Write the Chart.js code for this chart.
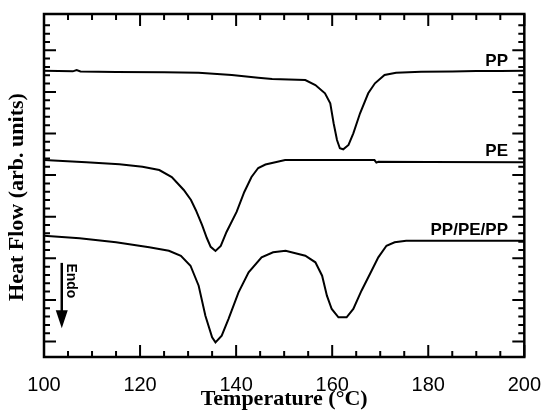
<!DOCTYPE html>
<html>
<head>
<meta charset="utf-8">
<script src="https://cdn.jsdelivr.net/npm/chart.js@4.4.0/dist/chart.umd.min.js"></script>
<style>
  body { margin: 0; background: #fff; }
  #wrap { width: 549px; height: 419px; }
</style>
</head>
<body>
<div id="wrap"><canvas id="grafico" width="549" height="419"></canvas></div>
<script>
// DSC curves (temperature in °C, heat flow in arb. units, offset per curve)
const ppTemp = [100, 106.0, 106.8, 107.6, 115, 125, 132.2, 139.1, 144.6, 147.5, 154.4, 156.5, 158.5, 159.6, 160.3, 161.0, 161.6, 162.3, 163.4, 164.4, 165.8, 167.5, 168.9, 170.9, 173.3, 178.5, 185, 190, 195, 200];
const ppFlow = [32.55, 32.47, 32.62, 32.45, 32.4, 32.35, 32.31, 32.03, 31.71, 31.55, 31.43, 30.83, 29.83, 28.63, 26.23, 24.22, 23.22, 23.10, 23.62, 25.02, 27.43, 29.83, 31.03, 32.03, 32.31, 32.43, 32.45, 32.5, 32.5, 32.55];

const peTemp = [100, 108.8, 115.7, 120.5, 124.0, 126.6, 129.1, 130.6, 131.6, 132.9, 133.9, 134.7, 135.7, 136.8, 138.0, 140.1, 141.7, 143.2, 144.6, 146.1, 147.7, 150.2, 160, 168.8, 169.2, 169.6, 180, 200];
const peFlow = [21.81, 21.54, 21.30, 21.01, 20.61, 19.77, 18.21, 17.01, 15.81, 14.01, 12.44, 11.38, 10.89, 11.49, 13.17, 15.58, 17.97, 19.77, 20.85, 21.27, 21.49, 21.81, 21.81, 21.81, 21.5, 21.6, 21.56, 21.54];

const triTemp = [100, 107.4, 115.0, 121.9, 126.0, 128.5, 130.5, 132.2, 133.6, 135.0, 135.7, 137.0, 138.4, 140.5, 142.6, 145.3, 147.7, 150.3, 154.4, 156.5, 157.9, 158.9, 159.9, 161.3, 163.0, 164.4, 166.1, 168.2, 169.6, 171.3, 173.0, 175.4, 185, 200];
const triFlow = [12.72, 12.40, 11.92, 11.32, 10.91, 10.31, 9.11, 6.71, 3.10, 0.50, -0.10, 0.70, 2.70, 5.91, 8.32, 10.12, 10.72, 10.91, 10.31, 9.52, 7.91, 5.51, 3.91, 2.91, 2.91, 3.91, 6.11, 8.51, 10.12, 11.51, 11.92, 12.11, 12.11, 12.11];

const curveNames = ['PP', 'PE', 'PP/PE/PP'];
const xTickLabels = [100, 120, 140, 160, 180, 200];

const pontos = (t, v) => t.map((x, i) => ({ x: x, y: v[i] }));

// frame, inward ticks, y title, curve labels and the Endo arrow
const moldura = {
  id: 'moldura',
  afterDraw(chart) {
    const { ctx, chartArea: a, scales: { x, y } } = chart;
    ctx.save();
    ctx.strokeStyle = '#000';
    ctx.fillStyle = '#000';

    ctx.lineWidth = 2;
    ctx.beginPath();
    x.ticks.forEach(t => {
      const px = x.getPixelForValue(t.value);
      const len = t.value % 20 === 0 ? 12 : 6;
      ctx.moveTo(px, a.bottom); ctx.lineTo(px, a.bottom - len);
      ctx.moveTo(px, a.top); ctx.lineTo(px, a.top + len);
    });
    y.ticks.forEach(t => {
      if (!Number.isInteger(t.value)) return;
      const py = y.getPixelForValue(t.value);
      const len = t.value % 5 === 0 ? 12 : 6;
      ctx.moveTo(a.left, py); ctx.lineTo(a.left + len, py);
      ctx.moveTo(a.right, py); ctx.lineTo(a.right - len, py);
    });
    ctx.stroke();
    ctx.lineWidth = 2.5;
    ctx.strokeRect(a.left, a.top, a.right - a.left, a.bottom - a.top);

    // y axis title
    ctx.save();
    ctx.translate(17, 197);
    ctx.rotate(-Math.PI / 2);
    ctx.font = 'bold 22px "Liberation Serif"';
    ctx.textAlign = 'center';
    ctx.textBaseline = 'middle';
    ctx.fillText('Heat Flow (arb. units)', 0, 0);
    ctx.restore();

    // curve names
    ctx.font = 'bold 17px "Liberation Sans"';
    ctx.textAlign = 'right';
    ctx.textBaseline = 'middle';
    const nameY = [33.7, 22.9, 13.4];
    curveNames.forEach((n, i) => {
      ctx.fillText(n, x.getPixelForValue(196.6), y.getPixelForValue(nameY[i]));
    });

    // Endo arrow
    const ax = x.getPixelForValue(103.7);
    const y0 = y.getPixelForValue(9.45);
    const y1 = y.getPixelForValue(1.6);
    ctx.lineWidth = 2.5;
    ctx.beginPath();
    ctx.moveTo(ax, y0); ctx.lineTo(ax, y1 - 14);
    ctx.stroke();
    ctx.beginPath();
    ctx.moveTo(ax - 6, y1 - 18);
    ctx.lineTo(ax + 6, y1 - 18);
    ctx.lineTo(ax, y1);
    ctx.closePath();
    ctx.fill();

    ctx.save();
    ctx.translate(ax + 9, y0 + 18);
    ctx.rotate(Math.PI / 2);
    ctx.font = 'bold 14px "Liberation Sans"';
    ctx.textAlign = 'center';
    ctx.textBaseline = 'middle';
    ctx.fillText('Endo', 0, 0);
    ctx.restore();

    ctx.restore();
  }
};

const serie = (t, v) => ({
  data: pontos(t, v),
  borderColor: '#000',
  borderWidth: 2,
  pointRadius: 0,
  tension: 0,
  fill: false
});

const chart = new Chart(document.getElementById('grafico'), {
  type: 'line',
  data: {
    datasets: [serie(ppTemp, ppFlow), serie(peTemp, peFlow), serie(triTemp, triFlow)]
  },
  options: {
    responsive: false,
    animation: false,
    layout: { padding: { top: 14, right: 21, left: 0, bottom: 0 } },
    plugins: { legend: { display: false }, tooltip: { enabled: false } },
    scales: {
      x: {
        type: 'linear',
        min: 100,
        max: 200,
        grid: { display: false },
        border: { display: false },
        ticks: {
          stepSize: 5,
          autoSkip: false,
          maxRotation: 0,
          padding: 8,
          color: '#000',
          font: { family: '"Liberation Sans"', size: 20 },
          callback: v => xTickLabels.includes(v) ? String(v) : ''
        },
        title: {
          display: true,
          text: 'Temperature (°C)',
          color: '#000',
          font: { family: '"Liberation Serif"', size: 22, weight: 'bold' },
          padding: { top: 0, bottom: 6 }
        },
        afterFit(s) { s.height = 62; }
      },
      y: {
        type: 'linear',
        min: -1.86,
        max: 39.36,
        grid: { display: false },
        border: { display: false },
        ticks: { display: false, stepSize: 1 },
        afterFit(s) { s.width = 44; }
      }
    }
  },
  plugins: [moldura]
});
</script>
</body>
</html>
